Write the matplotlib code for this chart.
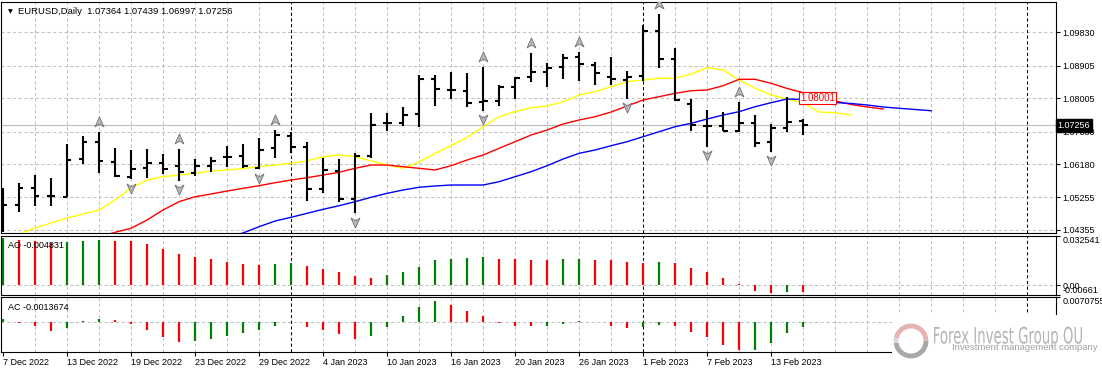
import numpy as np
import matplotlib.pyplot as plt
from matplotlib.patches import Rectangle, Arc, PathPatch
from matplotlib.path import Path
from matplotlib.textpath import TextPath
from matplotlib.font_manager import FontProperties
from matplotlib.transforms import Affine2D

plt.rcParams['font.family'] = ['Liberation Sans', 'DejaVu Sans']

# ---- data (EURUSD daily, one bar per trading day) ----
dates = ["7 Dec 2022", "13 Dec 2022", "19 Dec 2022", "23 Dec 2022", "29 Dec 2022",
         "4 Jan 2023", "10 Jan 2023", "16 Jan 2023", "20 Jan 2023", "26 Jan 2023",
         "1 Feb 2023", "7 Feb 2023", "13 Feb 2023"]
date_bars = [0, 4, 8, 12, 16, 20, 24, 28, 32, 36, 40, 44, 48]

opens = [1.0500, 1.05046, 1.05525, 1.05296, 1.05276, 1.06329, 1.06800, 1.06246, 1.05830, 1.06079,
         1.06210, 1.06135, 1.05941, 1.06135, 1.06384, 1.06395, 1.06079, 1.06617, 1.06958, 1.06644,
         1.05481, 1.05996, 1.05204, 1.06404, 1.07309, 1.07326, 1.07567, 1.08528, 1.08232, 1.08204,
         1.07908, 1.07935, 1.08306, 1.08583, 1.08722, 1.08877, 1.09154, 1.08924, 1.08600, 1.08509,
         1.08620, 1.09874, 1.09082, 1.07836, 1.07235, 1.07235, 1.07096, 1.07326, 1.06783, 1.07187, 1.07364]
highs = [1.05509, 1.05664, 1.05877, 1.05786, 1.06736, 1.06958, 1.07060, 1.06617, 1.06570, 1.06597,
         1.06459, 1.06597, 1.06312, 1.06384, 1.06681, 1.06736, 1.06910, 1.07124, 1.07060, 1.06800,
         1.06356, 1.06312, 1.06478, 1.07586, 1.07586, 1.07752, 1.08647, 1.08647, 1.08722, 1.08694,
         1.08877, 1.08370, 1.08583, 1.09248, 1.08971, 1.09221, 1.09276, 1.08999, 1.09154, 1.08758,
         1.10032, 1.10337, 1.09387, 1.07974, 1.07678, 1.07614, 1.07908, 1.07539, 1.07290, 1.08030, 1.07439]
lows = [1.0430, 1.04861, 1.05027, 1.05027, 1.05260, 1.06174, 1.05924, 1.05830, 1.05758, 1.05786,
        1.05905, 1.05719, 1.05858, 1.05969, 1.06107, 1.06063, 1.06035, 1.06356, 1.06478, 1.05165,
        1.05387, 1.05138, 1.04816, 1.06356, 1.07104, 1.07243, 1.07215, 1.07797, 1.07982, 1.07752,
        1.07650, 1.07797, 1.07982, 1.08445, 1.08306, 1.08536, 1.08481, 1.08370, 1.08370, 1.07982,
        1.08481, 1.08849, 1.07927, 1.07096, 1.06661, 1.07096, 1.07060, 1.06644, 1.06523, 1.07060, 1.06997]
closes = [1.05046, 1.05525, 1.05304, 1.05296, 1.06293, 1.06800, 1.06265, 1.05858, 1.06043, 1.06210,
          1.06043, 1.05952, 1.06135, 1.06273, 1.06384, 1.06135, 1.06570, 1.06985, 1.06661, 1.05481,
          1.06016, 1.05204, 1.06404, 1.07262, 1.07309, 1.07539, 1.08528, 1.08259, 1.08232, 1.07880,
          1.07935, 1.08306, 1.08556, 1.08722, 1.08849, 1.09110, 1.08944, 1.08694, 1.08528, 1.08583,
          1.09874, 1.09090, 1.07955, 1.07262, 1.07235, 1.07096, 1.07309, 1.06755, 1.07171, 1.07354, 1.07256]

# alligator lines (shifted forward, so they run past the last bar)
lips_start = 0
lips = [1.04160, 1.04243, 1.04409, 1.04548, 1.04686, 1.04797, 1.04908, 1.05185, 1.05517, 1.05739,
        1.05830, 1.05877, 1.05924, 1.05988, 1.06016, 1.06057, 1.06107, 1.06154, 1.06201, 1.06265,
        1.06384, 1.06431, 1.06384, 1.06265, 1.06154, 1.06063, 1.06237, 1.06478, 1.06689, 1.06921,
        1.07215, 1.07492, 1.07631, 1.07741, 1.07789, 1.07908, 1.08093, 1.08185, 1.08323, 1.08462,
        1.08509, 1.08556, 1.08556, 1.08675, 1.08849, 1.08786, 1.08509, 1.08279, 1.08093, 1.07982,
        1.07872, 1.07622, 1.07603, 1.07539]
teeth_start = 6
teeth = [1.04160, 1.04290, 1.04401, 1.04631, 1.04908, 1.05138, 1.05276, 1.05351, 1.05434, 1.05509,
         1.05581, 1.05664, 1.05739, 1.05802, 1.05877, 1.05952, 1.06063, 1.06154, 1.06154, 1.06107,
         1.06063, 1.06016, 1.06135, 1.06293, 1.06431, 1.06617, 1.06800, 1.06985, 1.07124, 1.07290,
         1.07401, 1.07492, 1.07622, 1.07789, 1.07955, 1.08046, 1.08140, 1.08212, 1.08232, 1.08351,
         1.08528, 1.08528, 1.08417, 1.08273, 1.08157, 1.08066, 1.07927, 1.07830, 1.07761, 1.07705]
jaw_start = 14
jaw = [1.04160, 1.04271, 1.04445, 1.04603, 1.04706, 1.04816, 1.04927, 1.05027, 1.05138, 1.05260,
       1.05370, 1.05462, 1.05537, 1.05573, 1.05600, 1.05600, 1.05600, 1.05692, 1.05830, 1.05969,
       1.06135, 1.06320, 1.06478, 1.06570, 1.06689, 1.06800, 1.06938, 1.07077, 1.07215, 1.07309,
       1.07428, 1.07539, 1.07631, 1.07769, 1.07880, 1.07982, 1.07969, 1.07913, 1.07885, 1.07858,
       1.07816, 1.07761, 1.07725, 1.07691, 1.07658]

up_fractals = [6, 11, 17, 30, 33, 36, 41, 46]
down_fractals = [8, 11, 16, 22, 30, 39, 44, 48]

ao_vals = [0.0310, 0.0298, 0.0294, 0.0282, 0.0286, 0.0291, 0.0298, 0.0290, 0.0289, 0.0271,
           0.0237, 0.0203, 0.0183, 0.0170, 0.0156, 0.0142, 0.0136, 0.0142, 0.0144, 0.0129,
           0.0108, 0.0088, 0.0061, 0.0047, 0.0068, 0.0088, 0.0122, 0.0163, 0.0176, 0.0178,
           0.0183, 0.0176, 0.0170, 0.0169, 0.0163, 0.0170, 0.0176, 0.0169, 0.0163, 0.0151,
           0.0148, 0.0156, 0.0149, 0.0115, 0.0088, 0.0047, 0.0004, -0.0041, -0.0054, -0.00475, -0.004831]
ao_dir = "grrrgggrrr" "rrrrrrrggr" "rrrrgggggg" "grrrrggrrr" "rgrrrrrrrgr"

ac_vals = [0.0009, -0.0002, -0.0012, -0.0026, -0.0018, 0.0003, 0.0009, 0.0006, -0.0006, -0.0024,
           -0.0045, -0.0060, -0.0057, -0.0051, -0.0042, -0.0033, -0.0024, -0.0012, 0.0001, -0.0015,
           -0.0024, -0.0036, -0.0051, -0.0042, -0.0015, 0.0018, 0.0045, 0.0063, 0.0051, 0.0033,
           0.0018, -0.0002, -0.0012, -0.0013, -0.0011, -0.0006, 0.0003, -0.0001, -0.0012, -0.0018,
           -0.0015, -0.0009, -0.0012, -0.0030, -0.0045, -0.0069, -0.0085, -0.0084, -0.0063, -0.0033, -0.0013674]
ac_dir = "grrrgggrrr" "rrgggggggr" "rrrgggggrr" "rrrrgggrrr" "ggrrrrrgggg"

price_ticks = [1.09830, 1.08905, 1.08005, 1.07080, 1.06180, 1.05255, 1.04355]
last_price = 1.07256
marked_price = 1.08001
separators = [18, 40, 64]

# ---- layout (MT4 style, three stacked windows) ----
W, H = 1102, 373
fig = plt.figure(figsize=(W / 100, H / 100), dpi=100)


def box(x0, y0, x1, y1):
    return [x0 / W, 1 - y1 / H, (x1 - x0) / W, (y1 - y0) / H]


ax = fig.add_axes(box(1, 2, 1056, 233))
ax_ao = fig.add_axes(box(1, 236, 1056, 295))
ax_ac = fig.add_axes(box(1, 297, 1056, 352))

grid_c = '#c0c0c0'
dash = (0, (3, 2.5))
fs = 6.5

for a in (ax, ax_ao, ax_ac):
    a.set_xlim(-0.125, 65.8)
    for s in a.spines.values():
        s.set_linewidth(0.8)
        s.set_color('black')
    for gx in range(2, 64, 2):
        a.axvline(gx, color=grid_c, lw=0.75, ls=dash, zorder=0)
    for sx in separators:
        a.axvline(sx, color='black', lw=0.75, ls=dash, zorder=1)
    a.yaxis.tick_right()
    a.tick_params(axis='y', length=3, width=0.8, pad=1.5, labelsize=fs)
    a.set_xticks([])

# ---- price window ----
ax.set_ylim(1.04271, 1.10669)
ax.set_yticks(price_ticks)
ax.set_yticklabels([f"{p:.5f}" for p in price_ticks])
for p in price_ticks:
    ax.axhline(p, color=grid_c, lw=0.75, ls=dash, zorder=0)
ax.axhline(last_price, color='#c0c0c0', lw=0.9, zorder=1)

xs = np.arange(len(opens))
ax.vlines(xs, lows, highs, colors='black', lw=1.5, capstyle='butt', zorder=4)
ax.hlines(opens, xs - 0.28, xs, colors='black', lw=1.5, capstyle='butt', zorder=4)
ax.hlines(closes, xs, xs + 0.28, colors='black', lw=1.5, capstyle='butt', zorder=4)

ax.plot(np.arange(lips_start, lips_start + len(lips)), lips, color='#ffff00', lw=1.0, zorder=3)
ax.plot(np.arange(teeth_start, teeth_start + len(teeth)), teeth, color='#ff0000', lw=1.0, zorder=3)
ax.plot(np.arange(jaw_start, jaw_start + len(jaw)), jaw, color='#0000ff', lw=1.0, zorder=3)

up_arrow = Path([(0, 1), (0.8, -0.8), (0, -0.3), (-0.8, -0.8), (0, 1)],
                [Path.MOVETO, Path.LINETO, Path.LINETO, Path.LINETO, Path.CLOSEPOLY])
dn_arrow = Path([(0, -1), (0.8, 0.8), (0, 0.3), (-0.8, 0.8), (0, -1)],
                [Path.MOVETO, Path.LINETO, Path.LINETO, Path.LINETO, Path.CLOSEPOLY])
hi = np.array(highs)
lo = np.array(lows)
ax.plot(up_fractals, hi[up_fractals] + 0.0028, ls='none', marker=up_arrow, ms=8,
        mfc='#b8b8b8', mec='#707070', mew=0.6, zorder=5, clip_on=True)
ax.plot(down_fractals, lo[down_fractals] - 0.0023, ls='none', marker=dn_arrow, ms=8,
        mfc='#b8b8b8', mec='#707070', mew=0.6, zorder=5)

ax.text(49.8, marked_price, f"{marked_price:.5f}", color='red', fontsize=fs + 0.5,
        ha='left', va='center', zorder=8,
        bbox=dict(boxstyle='square,pad=0.12', fc='white', ec='red', lw=0.8))

ax.annotate(f"{last_price:.5f}", xy=(1, last_price), xycoords=('axes fraction', 'data'),
            xytext=(1.2, 0), textcoords='offset points', ha='left', va='center',
            color='white', fontsize=fs, annotation_clip=False, zorder=10,
            bbox=dict(boxstyle='square,pad=0.2', fc='black', ec='black'))

ax.text(7 / 1055, 1 - 10 / 231, '\u25bc', transform=ax.transAxes, fontsize=4.5,
        family='DejaVu Sans', va='center', ha='left')
ax.text(17 / 1055, 1 - 10 / 231, 'EURUSD,Daily  1.07364 1.07439 1.06997 1.07256',
        transform=ax.transAxes, fontsize=6.8, va='center', ha='left')

# ---- AO window ----
ax_ao.set_ylim(-0.00661, 0.032541)
ax_ao.axhline(0, color=grid_c, lw=0.75, ls=dash, zorder=0)
ao_cols = ['#008000' if d == 'g' else '#ff0000' for d in ao_dir]
ax_ao.vlines(xs, 0, ao_vals, colors=ao_cols, lw=1.6, capstyle='butt', zorder=3)
ax_ao.set_yticks([0.032541, 0, -0.00661])
ax_ao.set_yticklabels(['0.032541', '0.00', '-0.00661'])
labs = ax_ao.get_yticklabels()
labs[0].set_va('top')
labs[2].set_va('bottom')
ax_ao.text(7 / 1055, 1 - 9 / 59, 'AO -0.004831', transform=ax_ao.transAxes,
           fontsize=fs, va='center', ha='left', zorder=6)

# ---- AC window ----
ax_ac.set_ylim(-0.00897, 0.00748)
ax_ac.axhline(0, color=grid_c, lw=0.75, ls=dash, zorder=0)
ac_cols = ['#008000' if d == 'g' else '#ff0000' for d in ac_dir]
ax_ac.vlines(xs, 0, ac_vals, colors=ac_cols, lw=1.6, capstyle='butt', zorder=3)
ax_ac.set_yticks([0.00748])
ax_ac.set_yticklabels(['0.0070755'])
ax_ac.get_yticklabels()[0].set_va('top')
ax_ac.text(7 / 1055, 1 - 11 / 55, 'AC -0.0013674', transform=ax_ac.transAxes,
           fontsize=fs, va='center', ha='left', zorder=6)

ax_ac.set_xticks(date_bars)
ax_ac.set_xticklabels(dates, ha='left', fontsize=fs)
ax_ac.tick_params(axis='x', length=3, width=0.8, pad=1.5)

# ---- watermark ----
fig.add_artist(Rectangle((892 / W, 0), (W - 892) / W, (H - 315) / H,
                         transform=fig.transFigure, fc='white', ec='none', zorder=5))
cx, cy = 911 / W, 1 - 341 / H
fig.add_artist(Arc((cx, cy), 30 / W, 30 / H, theta1=200, theta2=360, transform=fig.transFigure,
                   color='#a8a8a8', lw=3.5, zorder=6))
fig.add_artist(Arc((cx, cy), 30 / W, 30 / H, theta1=0, theta2=150, transform=fig.transFigure,
                   color='#e6b3b3', lw=3.5, zorder=6))
fig.add_artist(Arc((cx, cy), 30 / W, 30 / H, theta1=150, theta2=200, transform=fig.transFigure,
                   color='#d8d8d8', lw=3.5, zorder=6))

prop = FontProperties(family='DejaVu Sans')
tp = TextPath((0, 0), 'Forex Invest Group OU', size=1, prop=prop)
cap = TextPath((0, 0), 'F', size=1, prop=prop).get_extents().height
ext = tp.get_extents()
sx_ = 148 / ext.width
sy_ = 16.5 / cap
fig.add_artist(PathPatch(tp, transform=Affine2D().translate(-ext.x0, 0).scale(sx_, sy_).translate(934, H - 343.5),
                         fc='#b4b4b4', ec='none', zorder=6))
fig.text(952 / W, 1 - 348 / H, 'Investment management company', fontsize=6.8,
         color='#a0a0a0', va='center', ha='left', zorder=6)

fig.savefig('out.png', dpi=100)
